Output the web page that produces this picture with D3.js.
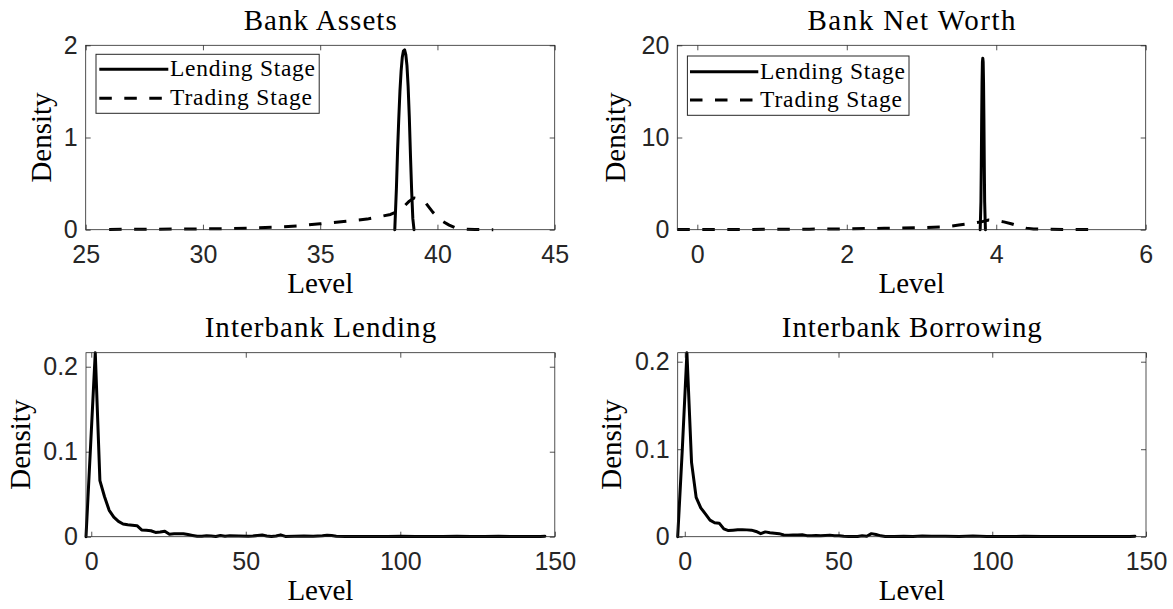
<!DOCTYPE html>
<html>
<head>
<meta charset="utf-8">
<script src="https://cdn.jsdelivr.net/npm/d3@7"></script>
<style>
  html, body { margin: 0; padding: 0; background: #ffffff; }
  svg { display: block; }
</style>
</head>
<body>
<script>
// ---- Bank assets: kernel density estimates ----
const assetsLendX = [38.18, 38.25, 38.30, 38.35, 38.40, 38.45, 38.50, 38.55, 38.60, 38.65, 38.70, 38.75, 38.80, 38.85, 38.90, 38.95, 39.00];
const assetsLendY = [0.00, 0.45, 0.86, 1.20, 1.50, 1.72, 1.87, 1.94, 1.95, 1.90, 1.78, 1.55, 1.22, 0.80, 0.42, 0.12, 0.00];
const assetsTradeX = [26.0, 27.0, 28.0, 29.0, 30.0, 31.0, 32.0, 33.0, 34.0, 35.0, 36.0, 37.0, 37.5, 38.0, 38.3, 38.6, 38.8, 39.0, 39.2, 39.5, 39.8, 40.0, 40.25, 40.5, 40.75, 41.0, 41.25, 41.6, 42.0, 42.38];
const assetsTradeY = [0.003, 0.004, 0.005, 0.007, 0.009, 0.012, 0.017, 0.026, 0.040, 0.064, 0.088, 0.115, 0.140, 0.165, 0.20, 0.26, 0.31, 0.345, 0.335, 0.29, 0.19, 0.14, 0.087, 0.05, 0.022, 0.011, 0.005, 0.002, 0.001, 0.0];

// ---- Bank net worth ----
const worthLendX = [3.785, 3.795, 3.800, 3.805, 3.810, 3.815, 3.820, 3.825, 3.830, 3.835, 3.840, 3.845, 3.855];
const worthLendY = [0.0, 3.0, 7.0, 12.0, 16.0, 18.2, 18.6, 18.2, 16.0, 12.0, 7.0, 3.0, 0.0];
const worthTradeX = [-0.268, 0.5, 1.0, 1.5, 2.0, 2.5, 3.0, 3.3, 3.5, 3.7, 3.8, 3.9, 4.0, 4.1, 4.2, 4.3, 4.4, 4.5, 4.7, 5.0, 5.29];
const worthTradeY = [0.02, 0.03, 0.04, 0.06, 0.09, 0.15, 0.22, 0.30, 0.50, 0.72, 0.85, 1.05, 1.00, 0.85, 0.65, 0.40, 0.17, 0.08, 0.04, 0.02, 0.01];

// ---- Interbank lending ----
const ibLendX = [-1.7, -0.2, 1.3, 2.8, 4.3, 5.8, 7.3, 8.8, 10.3, 11.8, 13.3, 14.8, 16.3, 17.8, 19.3, 20.8, 22.3, 23.8, 25.3, 26.8, 28.3, 29.8, 31.3, 32.8, 34.3, 35.8, 37.3, 38.8, 40.3, 41.8, 43.3, 44.8, 47.8, 50.8, 52.3, 53.8, 55.3, 56.8, 58.3, 59.8, 61.3, 62.8, 65.8, 68.8, 71.8, 74.8, 76.3, 77.8, 79.3, 82.3, 86.8, 91.3, 95.8, 100.3, 104.8, 109.3, 113.8, 118.3, 122.8, 127.3, 131.8, 136.3, 140.8, 145.3, 146.8];
const ibLendY = [0.0, 0.108, 0.2165, 0.066, 0.047, 0.031, 0.023, 0.018, 0.015, 0.014, 0.0135, 0.013, 0.008, 0.0075, 0.007, 0.005, 0.0055, 0.0065, 0.003, 0.0035, 0.0035, 0.0035, 0.0025, 0.0015, 0.0005, 0.0005, 0.001, 0.0008, 0.0003, 0.0015, 0.0005, 0.001, 0.0008, 0.0005, 0.0008, 0.0015, 0.002, 0.0008, 0.0003, 0.0008, 0.0022, 0.0003, 0.0006, 0.0008, 0.0004, 0.0012, 0.0018, 0.0014, 0.0006, 0.0001, 0.0001, 0.0002, 0.0001, 0.0006, 0.0002, 0.0001, 0.0002, 0.0005, 0.0001, 0.0002, 0.0004, 0.0001, 0.0001, 0.0002, 0.0005];

// ---- Interbank borrowing ----
const ibBorrowX = [-2.3, -0.8, 0.7, 2.2, 3.7, 5.2, 6.7, 8.2, 9.7, 11.2, 12.7, 14.2, 15.7, 17.2, 18.7, 20.2, 21.7, 23.2, 24.7, 26.2, 27.7, 29.2, 30.7, 32.2, 33.7, 35.2, 36.7, 38.2, 39.7, 41.2, 42.7, 44.2, 45.7, 47.2, 48.7, 50.2, 51.7, 53.2, 54.7, 56.2, 57.7, 59.2, 60.7, 62.2, 63.7, 65.2, 68.2, 71.2, 74.2, 77.2, 80.2, 84.7, 89.2, 93.7, 98.2, 104.2, 110.2, 116.2, 122.2, 128.2, 134.2, 140.2, 144.7, 146.4];
const ibBorrowY = [0.0, 0.100, 0.2103, 0.085, 0.045, 0.033, 0.026, 0.019, 0.016, 0.0155, 0.009, 0.007, 0.0075, 0.008, 0.008, 0.0078, 0.0075, 0.006, 0.0035, 0.0055, 0.0045, 0.004, 0.0035, 0.002, 0.0018, 0.002, 0.002, 0.0022, 0.0012, 0.0012, 0.0015, 0.001, 0.0015, 0.0018, 0.001, 0.0012, 0.0005, 0.0003, 0.0002, 0.0002, 0.001, 0.0005, 0.0035, 0.0025, 0.001, 0.0003, 0.0002, 0.0006, 0.0003, 0.0008, 0.0004, 0.0006, 0.0001, 0.0008, 0.0001, 0.0001, 0.0004, 0.0001, 0.0001, 0.0003, 0.0001, 0.0002, 0.0001, 0.0005];

// ---- Axis limits and ticks ----
const assetsXDomain = [25, 45],    assetsYDomain = [0, 2];
const assetsXTicks = [25, 30, 35, 40, 45], assetsYTicks = [0, 1, 2];
const worthXDomain = [-0.268, 6], worthYDomain = [0, 20];
const worthXTicks = [0, 2, 4, 6],  worthYTicks = [0, 10, 20];
const ibLendXDomain = [-1.7, 150], ibLendYDomain = [0, 0.2165];
const ibBorrowXDomain = [-2.3, 150], ibBorrowYDomain = [0, 0.2103];
const ibXTicks = [0, 50, 100, 150], ibYTicks = [0, 0.1, 0.2];

const titles = ["Bank Assets", "Bank Net Worth", "Interbank Lending", "Interbank Borrowing"];
const legendLabels = ["Lending Stage", "Trading Stage"];
const xLabel = "Level", yLabel = "Density";

const zip = (xs, ys) => xs.map((v, i) => [v, ys[i]]);

const panels = [
  { title: titles[0], titleLen: 153, box: { x0: 85.7, x1: 554.7, y0: 45.3, y1: 229.7 },
    xDomain: assetsXDomain, yDomain: assetsYDomain, xTicks: assetsXTicks, yTicks: assetsYTicks,
    series: [zip(assetsLendX, assetsLendY), zip(assetsTradeX, assetsTradeY)],
    ylabelX: 50.5,
    legend: { x: 96, y: 54.3, w: 223.2, h: 59, rows: [69.3, 98.3], lx0: 99.3, lx1: 168.3, tx: 170 } },
  { title: titles[1], titleLen: 208, box: { x0: 677.3, x1: 1145.7, y0: 45.3, y1: 229.7 },
    xDomain: worthXDomain, yDomain: worthYDomain, xTicks: worthXTicks, yTicks: worthYTicks,
    series: [zip(worthLendX, worthLendY), zip(worthTradeX, worthTradeY)],
    ylabelX: 625,
    legend: { x: 687.4, y: 56, w: 221.6, h: 59.3, rows: [71.7, 100], lx0: 690, lx1: 758.3, tx: 760 } },
  { title: titles[2], titleLen: 231.5, box: { x0: 86, x1: 554.8, y0: 352.7, y1: 536.7 },
    xDomain: ibLendXDomain, yDomain: ibLendYDomain, xTicks: ibXTicks, yTicks: ibYTicks,
    series: [zip(ibLendX, ibLendY)], ylabelX: 29.8, legend: null },
  { title: titles[3], titleLen: 260, box: { x0: 677.7, x1: 1146, y0: 352.7, y1: 536.7 },
    xDomain: ibBorrowXDomain, yDomain: ibBorrowYDomain, xTicks: ibXTicks, yTicks: ibYTicks,
    series: [zip(ibBorrowX, ibBorrowY)], ylabelX: 621.2, legend: null }
];

const seriesStyles = [
  { dash: null },
  { dash: "12.5,12.5" }
];

const serif = "'Liberation Serif', 'Times New Roman', serif";
const sans = "'Liberation Sans', Arial, Helvetica, sans-serif";
const axisColor = "#262626";

const svg = d3.select("body").append("svg")
  .attr("width", 1173).attr("height", 609)
  .style("background", "#ffffff");

panels.forEach(p => {
  const b = p.box;
  const x = d3.scaleLinear().domain(p.xDomain).range([b.x0, b.x1]);
  const y = d3.scaleLinear().domain(p.yDomain).range([b.y1, b.y0]);
  const g = svg.append("g");

  const fmt = d => String(d);

  // axes with inward ticks on all four sides
  const styleAxis = sel => {
    sel.select(".domain").remove();
    sel.selectAll(".tick line").attr("stroke", axisColor).attr("stroke-width", 0.8);
    sel.selectAll(".tick text").attr("fill", axisColor)
      .style("font-family", sans).style("font-size", "25px");
  };
  g.append("g").attr("transform", `translate(0,${b.y1})`)
    .call(d3.axisBottom(x).tickValues(p.xTicks).tickSizeInner(-5).tickSizeOuter(0)
      .tickPadding(15.6).tickFormat(fmt))
    .call(styleAxis);
  g.append("g").attr("transform", `translate(0,${b.y0})`)
    .call(d3.axisTop(x).tickValues(p.xTicks).tickSizeInner(-5).tickSizeOuter(0).tickFormat(""))
    .call(styleAxis);
  g.append("g").attr("transform", `translate(${b.x0},0)`)
    .call(d3.axisLeft(y).tickValues(p.yTicks).tickSizeInner(-5).tickSizeOuter(0)
      .tickPadding(8).tickFormat(fmt))
    .call(styleAxis);
  g.append("g").attr("transform", `translate(${b.x1},0)`)
    .call(d3.axisRight(y).tickValues(p.yTicks).tickSizeInner(-5).tickSizeOuter(0).tickFormat(""))
    .call(styleAxis);

  // density curves
  const line = d3.line().x(d => x(d[0])).y(d => y(d[1]));
  p.series.forEach((s, i) => {
    g.append("path")
      .datum(s)
      .attr("d", line)
      .attr("fill", "none")
      .attr("stroke", "#000")
      .attr("stroke-width", 3)
      .attr("stroke-linejoin", "round")
      .attr("stroke-linecap", seriesStyles[i].dash ? "butt" : "round")
      .attr("stroke-dasharray", seriesStyles[i].dash);
  });

  // axes box
  g.append("rect")
    .attr("x", b.x0).attr("y", b.y0)
    .attr("width", b.x1 - b.x0).attr("height", b.y1 - b.y0)
    .attr("fill", "none").attr("stroke", axisColor).attr("stroke-width", 0.8);

  // title and axis labels
  const cx = (b.x0 + b.x1) / 2;
  g.append("text")
    .attr("x", cx).attr("y", b.y0 - 15.3)
    .attr("text-anchor", "middle")
    .attr("textLength", p.titleLen).attr("lengthAdjust", "spacing")
    .style("font-family", serif).style("font-size", "29px").attr("fill", "#000")
    .text(p.title);
  g.append("text")
    .attr("x", cx).attr("y", b.y1 + 63.5)
    .attr("text-anchor", "middle")
    .style("font-family", serif).style("font-size", "29px").attr("fill", "#000")
    .text(xLabel);
  g.append("text")
    .attr("transform", `translate(${p.ylabelX},${(b.y0 + b.y1) / 2}) rotate(-90)`)
    .attr("text-anchor", "middle")
    .style("font-family", serif).style("font-size", "29px").attr("fill", "#000")
    .text(yLabel);

  // legend
  if (p.legend) {
    const L = p.legend;
    g.append("rect")
      .attr("x", L.x).attr("y", L.y).attr("width", L.w).attr("height", L.h)
      .attr("fill", "#fff").attr("stroke", axisColor).attr("stroke-width", 1);
    legendLabels.forEach((lab, i) => {
      g.append("line")
        .attr("x1", L.lx0).attr("x2", L.lx1)
        .attr("y1", L.rows[i]).attr("y2", L.rows[i])
        .attr("stroke", "#000").attr("stroke-width", 3)
        .attr("stroke-dasharray", seriesStyles[i].dash);
      g.append("text")
        .attr("x", L.tx).attr("y", L.rows[i] + 6.8)
        .attr("textLength", i === 0 ? 145 : 142).attr("lengthAdjust", "spacing")
        .style("font-family", serif).style("font-size", "23.5px").attr("fill", "#000")
        .text(lab);
    });
  }
});
</script>
</body>
</html>
